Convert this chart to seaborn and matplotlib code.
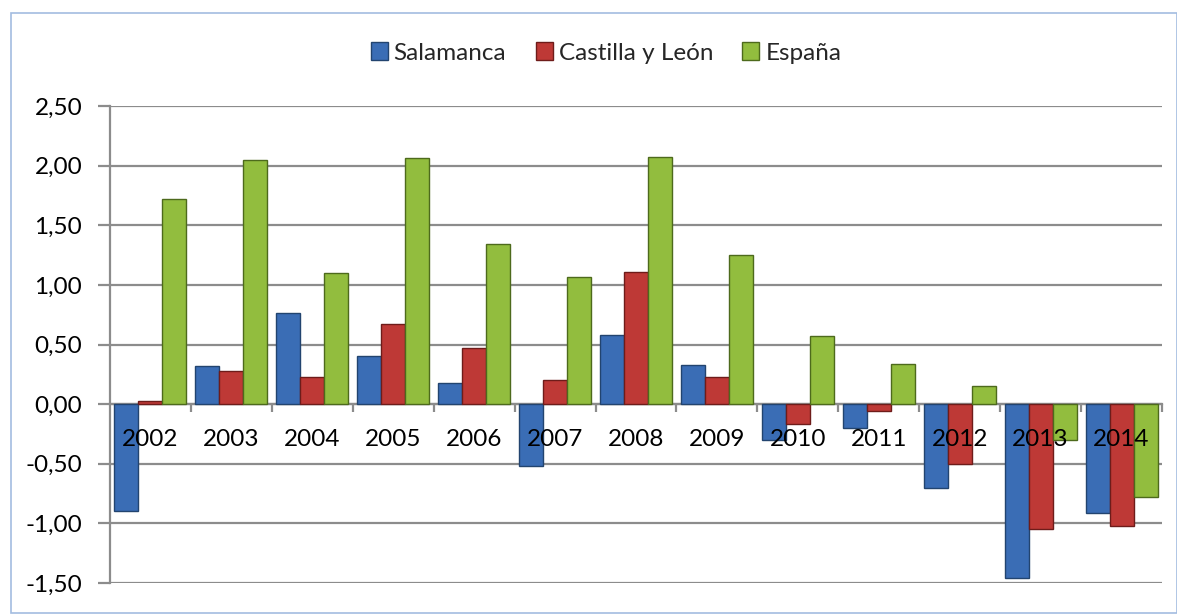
import matplotlib
matplotlib.use("Agg")
import matplotlib.pyplot as plt
import seaborn as sns
import pandas as pd
from matplotlib.patches import Rectangle
from matplotlib.ticker import FixedLocator, FuncFormatter

years = ["2002", "2003", "2004", "2005", "2006", "2007", "2008",
         "2009", "2010", "2011", "2012", "2013", "2014"]
series = ["Salamanca", "Castilla y León", "España"]
salamanca = [-0.90, 0.32, 0.76, 0.40, 0.18, -0.52, 0.58, 0.33, -0.30, -0.20, -0.70, -1.46, -0.91]
castilla = [0.03, 0.28, 0.23, 0.67, 0.47, 0.20, 1.11, 0.23, -0.17, -0.055, -0.50, -1.05, -1.02]
espana = [1.72, 2.05, 1.10, 2.06, 1.34, 1.07, 2.07, 1.25, 0.57, 0.34, 0.155, -0.30, -0.78]
yticks = [-1.5, -1.0, -0.5, 0.0, 0.5, 1.0, 1.5, 2.0, 2.5]

colors = ["#3A6DB5", "#BE3936", "#92BD3E"]
edges = ["#22446f", "#6e1c1a", "#4d6a1c"]

rows = []
for name, vals in zip(series, [salamanca, castilla, espana]):
    for y, v in zip(years, vals):
        rows.append({"year": y, "serie": name, "value": v})
df = pd.DataFrame(rows)

sns.set_theme(style="white")
plt.rcParams["font.family"] = ["Lato", "DejaVu Sans"]
FS = 17.5

fig = plt.figure(figsize=(11.77, 6.15), dpi=100)
ax = fig.add_axes([110 / 1177, 1 - 583 / 615, (1162 - 110) / 1177, (583 - 106) / 615])

sns.barplot(data=df, x="year", y="value", hue="serie", order=years, hue_order=series,
            palette=colors, saturation=1, width=0.89, ax=ax, legend=False, zorder=3)

n = len(years)
for i, patch in enumerate(ax.patches[: 3 * n]):
    s = i // n
    patch.set_edgecolor(edges[s])
    patch.set_linewidth(1.0)

ax.set_ylim(-1.5, 2.5)
ax.set_xlim(-0.5, n - 0.5)
ax.yaxis.set_major_locator(FixedLocator(yticks))
ax.yaxis.set_major_formatter(FuncFormatter(lambda v, p: f"{v:.2f}".replace(".", ",")))
ax.grid(axis="y", color="#8c8c8c", linewidth=1.6, zorder=0)
ax.set_axisbelow(True)
ax.set_xlabel("")
ax.set_ylabel("")

for side in ["top", "right"]:
    ax.spines[side].set_visible(False)
ax.spines["left"].set_color("#8c8c8c")
ax.spines["left"].set_linewidth(1.6)
ax.spines["bottom"].set_position(("data", 0))
ax.spines["bottom"].set_color("#8c8c8c")
ax.spines["bottom"].set_linewidth(1.6)

ax.tick_params(axis="y", which="major", left=True, length=9, width=1.6, color="#8c8c8c",
               direction="out", pad=11, labelsize=FS, labelcolor="black")
ax.set_xticks(range(n))
ax.set_xticklabels(years)
ax.tick_params(axis="x", which="major", bottom=False, length=0, pad=18, labelsize=FS,
               labelcolor="black")
ax.set_xticks([i + 0.5 for i in range(n)], minor=True)
ax.tick_params(axis="x", which="minor", bottom=True, length=6, width=1.6, color="#8c8c8c",
               direction="out")
ax.xaxis.set_zorder(10)

handles = [Rectangle((0, 0), 1, 1, facecolor=c, edgecolor=e, linewidth=1) for c, e in zip(colors, edges)]
fig.legend(handles, series, loc="center", bbox_to_anchor=(606 / 1177, 1 - 53 / 615), ncol=3,
           frameon=False, fontsize=FS, handlelength=0.7, handleheight=0.7,
           handletextpad=0.25, columnspacing=1.2)

fig.patches.append(Rectangle((11 / 1177, 2 / 615), 1 - 11 / 1177, 1 - 15 / 615,
                             transform=fig.transFigure, fill=False,
                             edgecolor="#a3bce0", linewidth=1.2))

fig.savefig("out.png", dpi=100, facecolor="white")
